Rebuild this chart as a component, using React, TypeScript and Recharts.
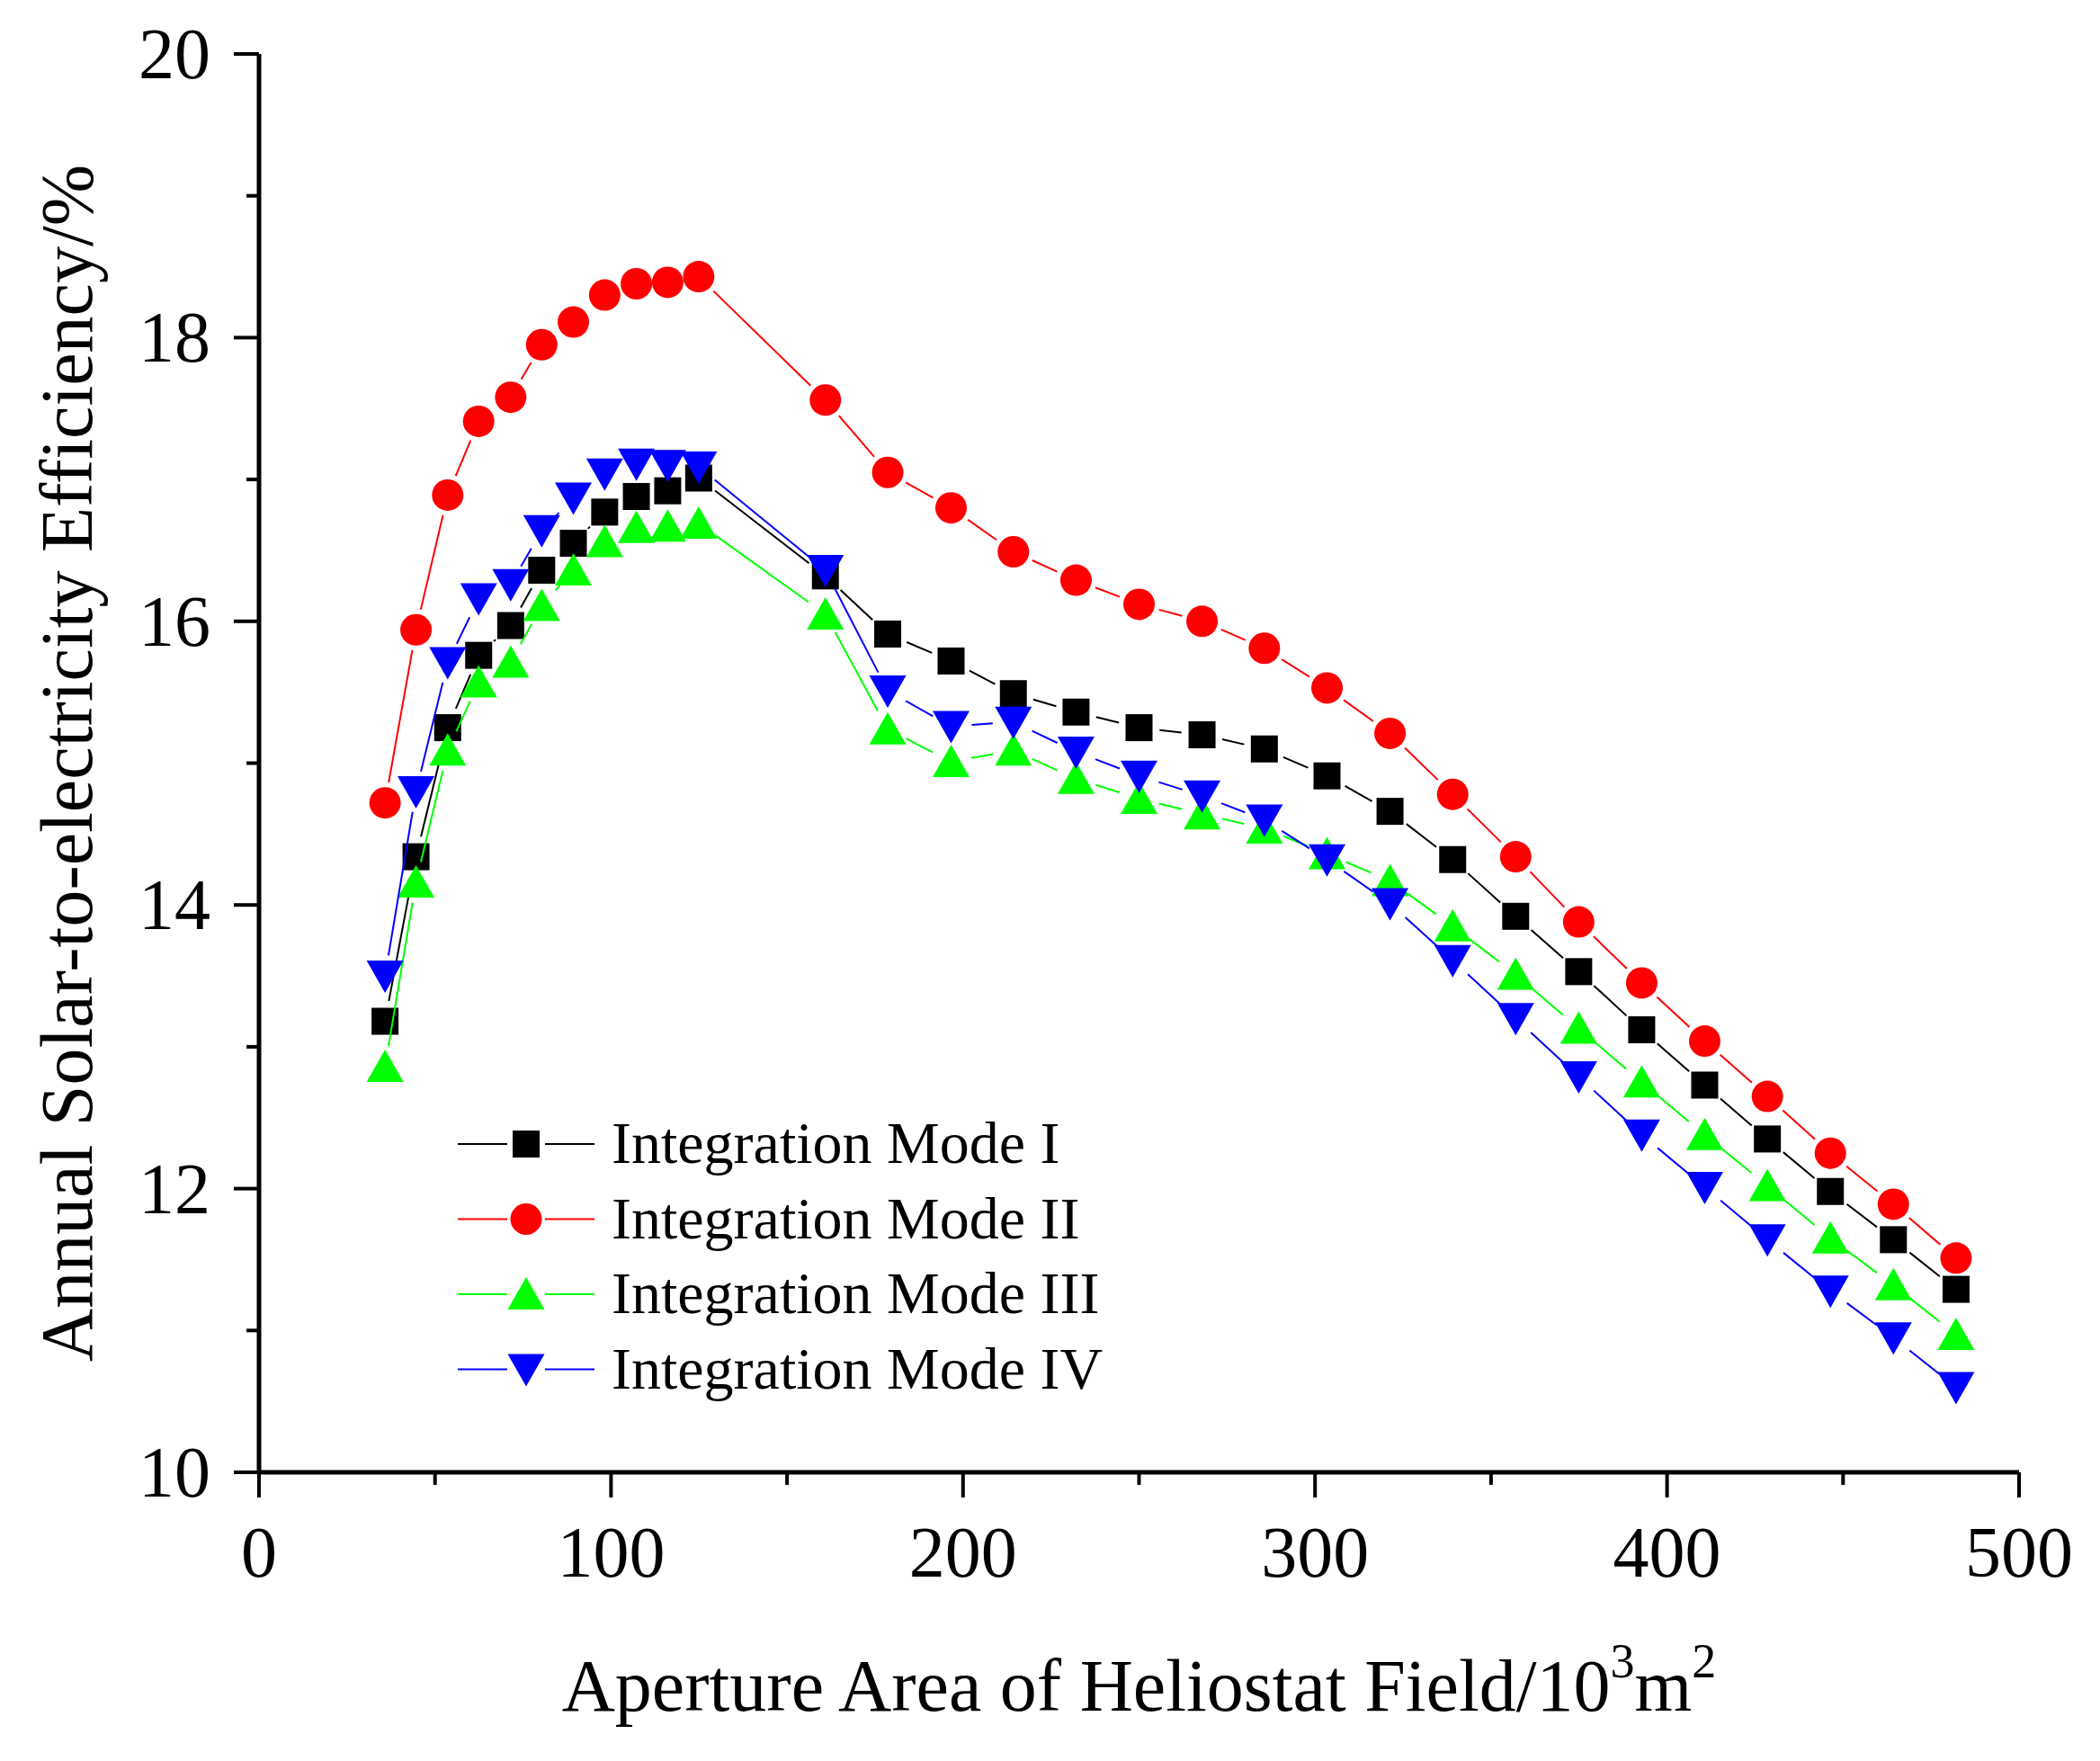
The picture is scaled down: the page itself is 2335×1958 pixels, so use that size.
import { LineChart, Line, XAxis, YAxis, Legend } from "recharts";

const areas = [
  35.8, 44.6, 53.6, 62.4, 71.5, 80.3, 89.3, 98.2, 107.2, 116.1, 124.9, 160.9, 178.6, 196.6, 214.3,
  232.1, 250.0, 267.9, 285.6, 303.4, 321.3, 339.1, 357.0, 374.9, 392.8, 410.7, 428.5, 446.4, 464.3, 482.1,
];

const modeI = [
  13.18, 14.34, 15.25, 15.76, 15.97, 16.36, 16.55, 16.77, 16.88, 16.92, 17.01, 16.32, 15.91, 15.72, 15.49,
  15.36, 15.25, 15.2, 15.1, 14.91, 14.66, 14.32, 13.92, 13.53, 13.12, 12.73, 12.35, 11.98, 11.64, 11.29,
];
const modeII = [
  14.72, 15.94, 16.89, 17.41, 17.58, 17.95, 18.11, 18.3, 18.38, 18.39, 18.43, 17.56, 17.05, 16.8, 16.49,
  16.29, 16.12, 16.0, 15.81, 15.53, 15.21, 14.78, 14.34, 13.88, 13.45, 13.04, 12.65, 12.25, 11.89, 11.51,
];
const modeIII = [
  12.86, 14.16, 15.09, 15.57, 15.71, 16.11, 16.36, 16.56, 16.66, 16.67, 16.69, 16.05, 15.24, 15.01, 15.09,
  14.89, 14.75, 14.64, 14.54, 14.36, 14.17, 13.85, 13.51, 13.13, 12.75, 12.38, 12.02, 11.65, 11.32, 10.97,
];
const modeIV = [
  13.5, 14.8, 15.71, 16.16, 16.26, 16.64, 16.87, 17.04, 17.11, 17.1, 17.09, 16.36, 15.51, 15.26, 15.29,
  15.08, 14.91, 14.77, 14.6, 14.32, 14.01, 13.61, 13.2, 12.79, 12.38, 12.01, 11.64, 11.28, 10.95, 10.6,
];

const xTicks = [0, 50, 100, 150, 200, 250, 300, 350, 400, 450, 500];
const xMajor = [0, 100, 200, 300, 400, 500];
const yTicks = [10, 11, 12, 13, 14, 15, 16, 17, 18, 19, 20];
const yMajor = [10, 12, 14, 16, 18, 20];

const seriesNames = ["Integration Mode I", "Integration Mode II", "Integration Mode III", "Integration Mode IV"];

const data = areas.map((a, i) => ({
  area: a,
  m1: modeI[i],
  m2: modeII[i],
  m3: modeIII[i],
  m4: modeIV[i],
}));

const FONT = "'Liberation Serif', 'Times New Roman', serif";
const GAP = 23;

type Shape = "square" | "circle" | "up" | "down";

const series: { key: string; name: string; color: string; shape: Shape }[] = [
  { key: "m1", name: seriesNames[0], color: "#000000", shape: "square" },
  { key: "m2", name: seriesNames[1], color: "#ff0000", shape: "circle" },
  { key: "m3", name: seriesNames[2], color: "#00ff00", shape: "up" },
  { key: "m4", name: seriesNames[3], color: "#0000ff", shape: "down" },
];

function Marker({ shape, color, cx, cy }: { shape: Shape; color: string; cx: number; cy: number }) {
  if (shape === "square") return <rect x={cx - 15} y={cy - 15} width={30} height={30} fill={color} />;
  if (shape === "circle") return <circle cx={cx} cy={cy} r={17.5} fill={color} />;
  if (shape === "up")
    return <polygon points={`${cx},${cy - 19} ${cx - 20.5},${cy + 17} ${cx + 20.5},${cy + 17}`} fill={color} />;
  return <polygon points={`${cx},${cy + 19} ${cx - 20.5},${cy - 17} ${cx + 20.5},${cy - 17}`} fill={color} />;
}

// draws the segment to the previous point (with a gap round each marker) and then the marker
function makeDot(shape: Shape, color: string) {
  return (props: any) => {
    const { cx, cy, index, points } = props;
    let seg = null;
    if (points && index > 0) {
      const p = points[index - 1];
      const dx = cx - p.x;
      const dy = cy - p.y;
      const len = Math.sqrt(dx * dx + dy * dy);
      if (len > 2 * GAP + 1) {
        const ux = dx / len;
        const uy = dy / len;
        seg = (
          <line
            x1={p.x + ux * GAP}
            y1={p.y + uy * GAP}
            x2={cx - ux * GAP}
            y2={cy - uy * GAP}
            stroke={color}
            strokeWidth={2}
          />
        );
      }
    }
    return (
      <g key={`${shape}-${index}`}>
        {seg}
        <Marker shape={shape} color={color} cx={cx} cy={cy} />
      </g>
    );
  };
}

function XTick(props: any) {
  const { x, y, payload } = props;
  const major = xMajor.includes(payload.value);
  return (
    <g>
      <line x1={x} y1={y} x2={x} y2={y + (major ? 28 : 14)} stroke="#000" strokeWidth={4} />
      {major && (
        <text x={x} y={y + 116} textAnchor="middle" fontFamily={FONT} fontSize={80} fill="#000">
          {payload.value}
        </text>
      )}
    </g>
  );
}

function YTick(props: any) {
  const { x, y, payload } = props;
  const major = yMajor.includes(payload.value);
  return (
    <g>
      <line x1={x - (major ? 28 : 14)} y1={y} x2={x} y2={y} stroke="#000" strokeWidth={4} />
      {major && (
        <text x={x - 54} y={y + 27} textAnchor="end" fontFamily={FONT} fontSize={80} fill="#000">
          {payload.value}
        </text>
      )}
    </g>
  );
}

function XTitle(props: any) {
  const vb = props.viewBox || { x: 280, y: 1629, width: 1957, height: 313 };
  return (
    <text x={vb.x + vb.width / 2} y={vb.y + 265} textAnchor="middle" fontFamily={FONT} fontSize={82} fill="#000">
      Aperture Area of Heliostat Field/10
      <tspan dy={-37} fontSize={54}>
        3
      </tspan>
      <tspan dy={37}>m</tspan>
      <tspan dy={-37} fontSize={54}>
        2
      </tspan>
    </text>
  );
}

function YTitle(props: any) {
  const vb = props.viewBox || { x: 0, y: 52, width: 280, height: 1577 };
  const cx = vb.x + 94;
  const cy = vb.y + vb.height / 2;
  return (
    <text
      x={cx}
      y={cy}
      transform={`rotate(-90 ${cx} ${cy})`}
      textAnchor="middle"
      fontFamily={FONT}
      fontSize={82}
      fill="#000"
    >
      Annual Solar-to-electricity Efficiency/%
    </text>
  );
}

function LegendBox() {
  return (
    <svg width={800} height={360}>
      {series.map((s, i) => {
        const y = 52 + i * 83.5;
        return (
          <g key={s.key}>
            <line x1={9} y1={y} x2={64} y2={y} stroke={s.color} strokeWidth={2} />
            <line x1={106} y1={y} x2={161} y2={y} stroke={s.color} strokeWidth={2} />
            <Marker shape={s.shape} color={s.color} cx={85} cy={y} />
            <text x={180} y={y + 21} fontFamily={FONT} fontSize={66} fill="#000">
              {s.name}
            </text>
          </g>
        );
      })}
    </svg>
  );
}

export default function App() {
  return (
    <LineChart width={2319} height={1942} data={data} margin={{ top: 52, right: 82, left: 0, bottom: 0 }}>
      <XAxis
        dataKey="area"
        type="number"
        domain={[0, 500]}
        ticks={xTicks}
        interval={0}
        tickSize={0}
        tickMargin={0}
        tickLine={false}
        tick={<XTick />}
        height={313}
        axisLine={{ stroke: "#000", strokeWidth: 5 }}
        label={{ content: (p: any) => <XTitle {...p} /> }}
      />
      <YAxis
        type="number"
        domain={[10, 20]}
        ticks={yTicks}
        interval={0}
        tickSize={0}
        tickMargin={0}
        tickLine={false}
        tick={<YTick />}
        width={280}
        axisLine={{ stroke: "#000", strokeWidth: 5 }}
        label={{ content: (p: any) => <YTitle {...p} /> }}
      />
      <Legend
        layout="vertical"
        align="center"
        verticalAlign="middle"
        content={() => <LegendBox />}
        wrapperStyle={{ left: 492, top: 1212, width: 800, height: 360 }}
      />
      {series.map((s) => (
        <Line
          key={s.key}
          dataKey={s.key}
          name={s.name}
          stroke="none"
          dot={makeDot(s.shape, s.color)}
          activeDot={false}
          isAnimationActive={false}
        />
      ))}
    </LineChart>
  );
}
